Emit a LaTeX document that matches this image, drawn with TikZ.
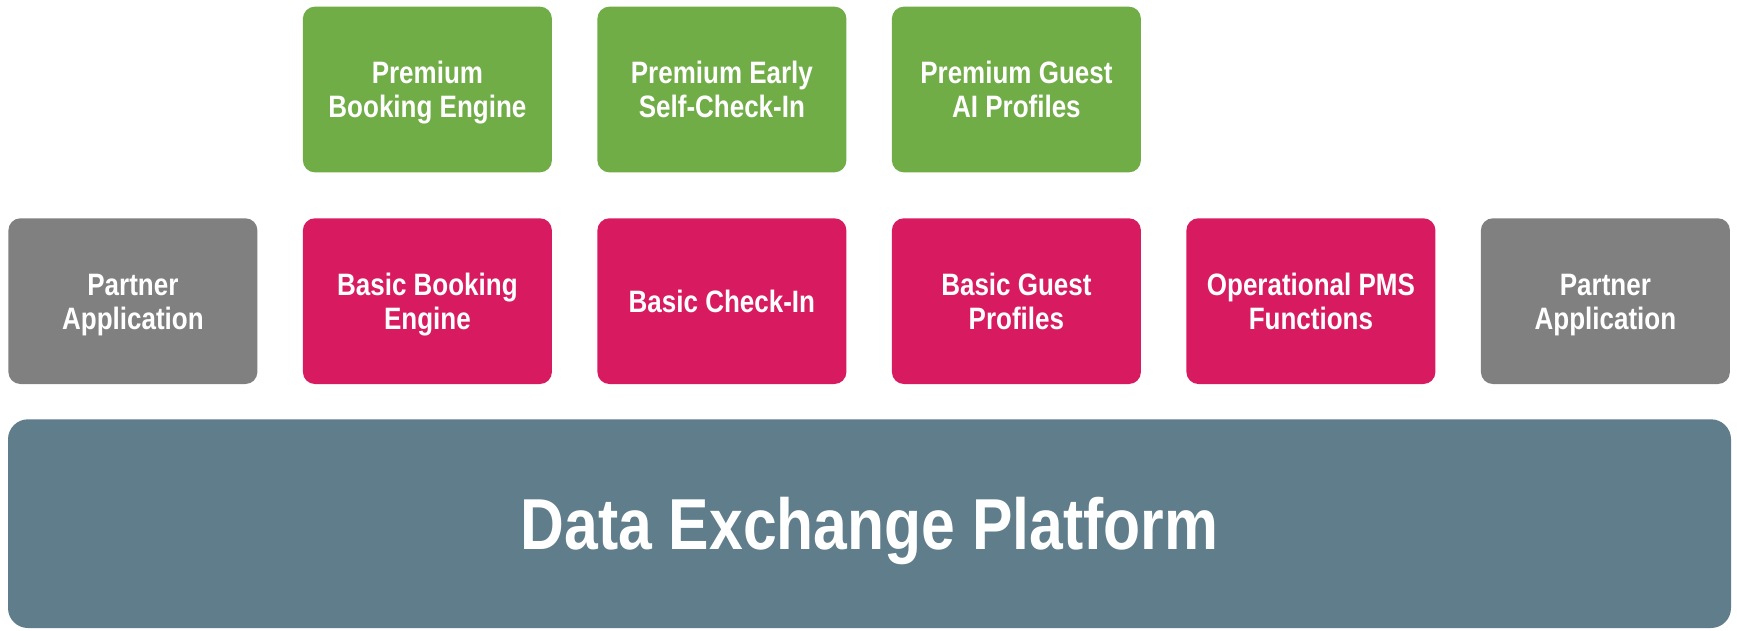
\documentclass[tikz,border=0pt]{standalone}
\usepackage{fontspec}
\newfontfamily\narrowsans[FakeStretch=0.84]{Liberation Sans}
\definecolor{premgreen}{RGB}{112,173,71}
\definecolor{basicpink}{RGB}{216,27,96}
\definecolor{partgray}{RGB}{128,128,128}
\definecolor{platslate}{RGB}{96,125,139}
\begin{document}
\begin{tikzpicture}[x=1pt,y=-1pt,
  tile/.style={rounded corners=12pt, minimum width=249pt, minimum height=165.7pt,
    inner sep=0pt, text=white, align=center, text height=55.9pt, text depth=0pt,
    font=\narrowsans\bfseries\fontsize{30.95}{33.7}\selectfont},
  oneline/.style={text height=22.2pt},
  premium/.style={tile, fill=premgreen},
  basic/.style={tile, fill=basicpink},
  partner/.style={tile, fill=partgray},
  platform/.style={rounded corners=20pt, minimum width=1723pt, minimum height=208.7pt,
    inner sep=0pt, text=white, fill=platslate, text height=51.7pt, text depth=0pt,
    font=\narrowsans\bfseries\fontsize{72.2}{80}\selectfont}]
\fill[white] (0,0) rectangle (1737,630);
\useasboundingbox (0,0) rectangle (1737,630);
% top row
\node[premium] (pbe) at (427.4,89.5) {Premium\\Booking Engine};
\node[premium] (pci) at (721.9,89.5) {Premium Early\\Self-Check-In};
\node[premium] (pgp) at (1016.4,89.5) {Premium Guest\\AI Profiles};
% middle row
\node[partner] (pa1) at (132.9,301.15) {Partner\\Application};
\node[basic] (bbe) at (427.4,301.15) {Basic Booking\\Engine};
\node[basic, oneline] (bci) at (721.9,301.15) {Basic Check-In};
\node[basic] (bgp) at (1016.4,301.15) {Basic Guest\\Profiles};
\node[basic] (ops) at (1310.9,301.15) {Operational PMS\\Functions};
\node[partner] (pa2) at (1605.4,301.15) {Partner\\Application};
% platform
\node[platform] (dep) at (869.5,523.65) {Data Exchange Platform};
\end{tikzpicture}
\end{document}
